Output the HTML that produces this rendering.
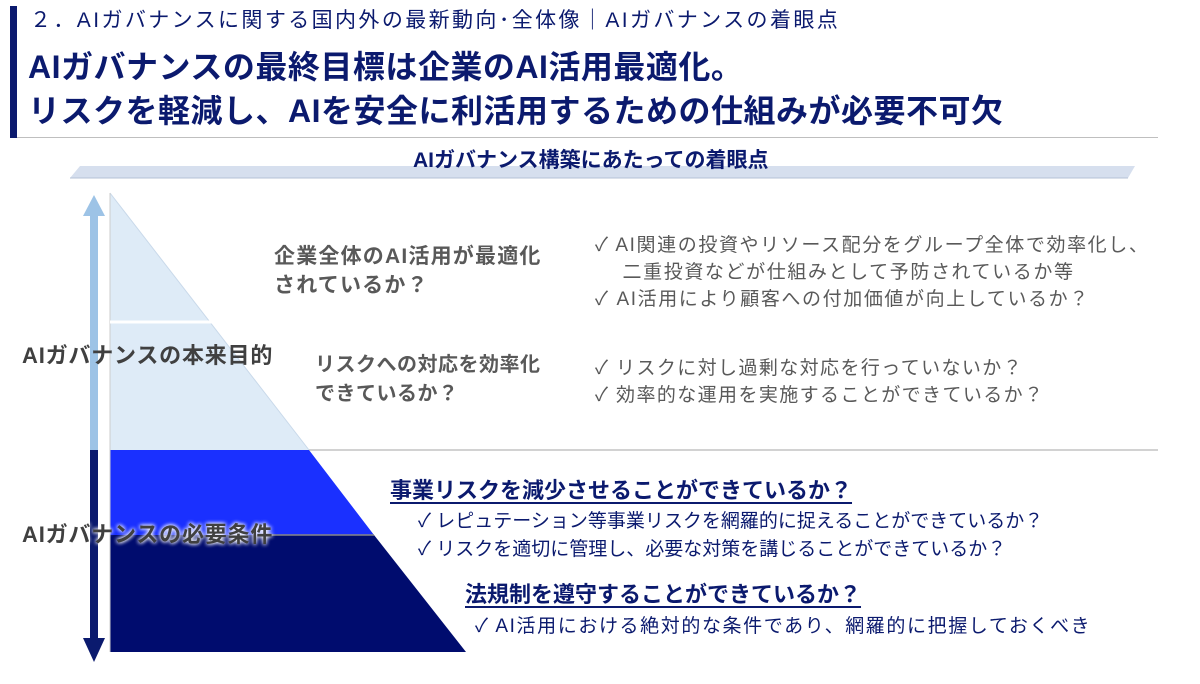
<!DOCTYPE html>
<html><head><meta charset="utf-8"><style>
body{margin:0;width:1200px;height:684px;background:#fff;position:relative;overflow:hidden;font-family:"Liberation Sans","Noto Sans CJK JP",sans-serif}
.t{position:absolute;white-space:nowrap;line-height:1.2}
.nv{color:#0b1a6e}
.gr{color:#595959}
.u{text-decoration:underline;text-decoration-thickness:2px;text-underline-offset:4px}
</style></head><body>
<svg width="1200" height="684" style="position:absolute;left:0;top:0">
<rect x="10" y="6" width="7" height="132" fill="#0b1a6e"/>
<line x1="17" y1="137.5" x2="1158" y2="137.5" stroke="#bfbfbf" stroke-width="1"/>
<polygon points="80,166 1135,166 1128,178 70,178" fill="#d6dfee"/>
<line x1="70" y1="178" x2="1128" y2="178" stroke="#b4c0d6"/>
<polygon points="110,193 309,450 110,450" fill="#deebf7"/>
<line x1="110" y1="193" x2="309" y2="450" stroke="#c9d9ea"/>
<polygon points="110,450 309,450 374,535 110,535" fill="#1a30ff"/>
<polygon points="110,535 374,535 466,652 110,652" fill="#000c6e"/>
<line x1="110" y1="193" x2="110" y2="652" stroke="#ccc"/>
<line x1="110" y1="322" x2="215" y2="322" stroke="#fff" stroke-width="3"/>
<line x1="309" y1="450" x2="1158" y2="450" stroke="#a6a6a6"/>
<line x1="262" y1="535" x2="374" y2="535" stroke="#888" stroke-width="1.5"/>
<rect x="90" y="215" width="8" height="235" fill="#9dc3e6"/>
<polygon points="94,195 105,216 83,216" fill="#9dc3e6"/>
<rect x="90" y="450" width="8" height="190" fill="#0b1a6e"/>
<polygon points="94,662 105,638 83,638" fill="#0b1a6e"/>
</svg>
<div class="t nv" style="left:30px;top:8px;font-size:21px;letter-spacing:2.4px">２．AIガバナンスに関する国内外の最新動向･全体像｜AIガバナンスの着眼点</div>
<div class="t nv" style="left:28px;top:48px;font-size:32px;font-weight:bold;letter-spacing:0.5px">AIガバナンスの最終目標は企業のAI活用最適化。</div>
<div class="t nv" style="left:28px;top:92px;font-size:32px;font-weight:bold;letter-spacing:0.5px">リスクを軽減し、AIを安全に利活用するための仕組みが必要不可欠</div>
<div class="t nv" style="left:413px;top:148px;font-size:21px;font-weight:bold">AIガバナンス構築にあたっての着眼点</div>
<div class="t gr" style="left:274px;top:242px;font-size:21px;font-weight:bold;line-height:29px;letter-spacing:1.2px">企業全体のAI活用が最適化<br>されているか？</div>
<div class="t gr" style="left:315px;top:351px;font-size:20px;font-weight:bold;line-height:29px;letter-spacing:0.5px">リスクへの対応を効率化<br>できているか？</div>
<div class="t" style="left:22px;top:343px;font-size:22px;font-weight:bold;color:#404040;letter-spacing:0.8px">AIガバナンスの本来目的</div>
<div class="t" style="left:22px;top:522px;font-size:22px;font-weight:bold;color:#404040;letter-spacing:0.8px;text-shadow:0 0 4px #fff,0 0 4px #fff">AIガバナンスの必要条件</div>
<div class="t gr" style="left:595px;top:232px;font-size:19px;line-height:27px;letter-spacing:1.6px">✓ AI関連の投資やリソース配分をグループ全体で効率化し、<br>&nbsp;&nbsp;&nbsp;&nbsp;二重投資などが仕組みとして予防されているか等<br>✓ AI活用により顧客への付加価値が向上しているか？</div>
<div class="t gr" style="left:595px;top:355px;font-size:19px;line-height:27px;letter-spacing:1.4px">✓ リスクに対し過剰な対応を行っていないか？<br>✓ 効率的な運用を実施することができているか？</div>
<div class="t nv u" style="left:390px;top:478px;font-size:22px;font-weight:bold">事業リスクを減少させることができているか？</div>
<div class="t nv" style="left:418px;top:508px;font-size:19px;line-height:28px">✓ レピュテーション等事業リスクを網羅的に捉えることができているか？<br>✓ リスクを適切に管理し、必要な対策を講じることができているか？</div>
<div class="t nv u" style="left:465px;top:582px;font-size:22px;font-weight:bold">法規制を遵守することができているか？</div>
<div class="t nv" style="left:475px;top:616px;font-size:19px;letter-spacing:1.6px">✓ AI活用における絶対的な条件であり、網羅的に把握しておくべき</div>
</body></html>
